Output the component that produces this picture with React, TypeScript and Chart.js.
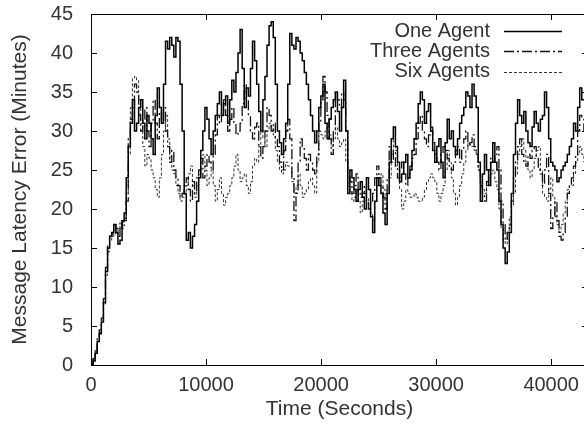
import React, { useEffect, useRef } from 'react';
import { Chart, registerables } from 'chart.js';

Chart.register(...registerables);

const TIMES = [
  0, 180, 360, 540, 720, 900, 1080, 1260, 1440, 1620, 1800, 1980, 2160, 2340, 2520, 2700, 2880, 3060, 3240, 3420,
  3600, 3780, 3960, 4140, 4320, 4500, 4680, 4860, 5040, 5220, 5400, 5580, 5760, 5940, 6120, 6300, 6480, 6660, 6840, 7020,
  7200, 7380, 7560, 7740, 7920, 8100, 8280, 8460, 8640, 8820, 9000, 9180, 9360, 9540, 9720, 9900, 10080, 10260, 10440, 10620,
  10800, 10980, 11160, 11340, 11520, 11700, 11880, 12060, 12240, 12420, 12600, 12780, 12960, 13140, 13320, 13500, 13680, 13860, 14040, 14220,
  14400, 14580, 14760, 14940, 15120, 15300, 15480, 15660, 15840, 16020, 16200, 16380, 16560, 16740, 16920, 17100, 17280, 17460, 17640, 17820,
  18000, 18180, 18360, 18540, 18720, 18900, 19080, 19260, 19440, 19620, 19800, 19980, 20160, 20340, 20520, 20700, 20880, 21060, 21240, 21420,
  21600, 21780, 21960, 22140, 22320, 22500, 22680, 22860, 23040, 23220, 23400, 23580, 23760, 23940, 24120, 24300, 24480, 24660, 24840, 25020,
  25200, 25380, 25560, 25740, 25920, 26100, 26280, 26460, 26640, 26820, 27000, 27180, 27360, 27540, 27720, 27900, 28080, 28260, 28440, 28620,
  28800, 28980, 29160, 29340, 29520, 29700, 29880, 30060, 30240, 30420, 30600, 30780, 30960, 31140, 31320, 31500, 31680, 31860, 32040, 32220,
  32400, 32580, 32760, 32940, 33120, 33300, 33480, 33660, 33840, 34020, 34200, 34380, 34560, 34740, 34920, 35100, 35280, 35460, 35640, 35820,
  36000, 36180, 36360, 36540, 36720, 36900, 37080, 37260, 37440, 37620, 37800, 37980, 38160, 38340, 38520, 38700, 38880, 39060, 39240, 39420,
  39600, 39780, 39960, 40140, 40320, 40500, 40680, 40860, 41040, 41220, 41400, 41580, 41760, 41940, 42120, 42300, 42480, 42660, 42840, 43020,
  43200,
];

const ONE_AGENT = [
  0, 0.5, 1.5, 3, 4, 5.5, 8, 12, 15, 16.5, 17, 18, 17, 15.5, 16, 18.5, 19.5, 24, 28, 31,
  34, 30, 31, 33, 34, 31, 29, 32, 31, 29, 27, 32, 35.5, 33, 31, 36, 41.5, 40.5, 42, 41,
  39.5, 42, 41.5, 36, 30, 22, 16, 17, 15, 16.5, 18, 21, 24, 27.5, 30, 33, 31.5, 29, 27, 30,
  32, 33.5, 35, 32, 33.5, 34.5, 31, 34, 36.5, 35, 37.5, 40, 43, 38, 33, 35.5, 34.5, 38, 41.5, 39,
  36, 32.5, 30, 34, 37, 41, 43.5, 44, 42, 36, 30, 28.5, 27, 29, 31, 36, 42.5, 41, 40.5, 42,
  41.5, 40, 39, 37.5, 36, 34, 32, 30, 28.5, 30, 33, 34.5, 36, 31, 29, 31.5, 33, 34, 35, 32.5,
  30, 33, 36.5, 30, 22, 25, 24, 22.5, 21, 22.5, 23.5, 21.5, 20, 24, 22.5, 19, 17, 21, 24, 23,
  22, 19.5, 18, 22, 26, 29, 30.5, 28, 26, 23.5, 24.5, 26, 27, 24, 25, 27.5, 29, 31, 33.5, 35,
  34, 31, 32.5, 33.5, 30, 27.5, 26, 28, 29, 26, 24, 28.5, 31.5, 29, 30, 28, 27, 29, 31, 32,
  33, 35, 34.5, 33, 36, 34.5, 33, 26, 21, 24.5, 27, 25, 23, 26, 28.5, 26, 25, 21, 18, 15,
  13, 14.5, 17, 22, 27, 31, 34, 32, 31, 32.5, 30, 28.5, 28, 30.5, 32.5, 31, 30, 31.5, 32, 35,
  33, 29, 26, 25.5, 25, 23.5, 24, 25, 25.5, 26, 27, 28, 29, 31, 30, 33, 35.5, 34, 34, 36,
  35,
];

const THREE_AGENTS = [
  0, 0.8, 1.8, 3.5, 4.5, 6, 8.5, 12.5, 15.5, 16.5, 16.8, 18, 17.5, 16.5, 18.5, 17.5, 18.5, 21, 29, 31.5,
  33, 36, 35, 32, 30, 31.5, 33, 30, 28, 31, 34, 31, 29, 32.5, 31, 33, 30, 28, 26, 27.5,
  25, 24, 23, 21.5, 22, 23, 24, 22.5, 21, 23.5, 22, 24, 25, 26.5, 24, 25.5, 27, 26, 25, 27,
  29.5, 32, 31, 32.5, 34, 32, 30, 31.5, 33, 31, 29.5, 30, 31, 33.5, 36, 34, 32, 30, 29, 30.5,
  31, 28, 26.5, 28, 30, 33, 32, 30, 31, 29, 28, 26, 25, 27.5, 30, 31.5, 29, 24, 18.5, 22,
  26, 29, 28, 26.5, 25, 27, 26, 25, 24.5, 27, 31, 34, 37, 35, 32, 29, 27, 30, 35, 34,
  33, 35, 34, 30, 25, 23.5, 22, 23, 24.5, 22, 21.5, 22, 23, 21, 20, 21, 22, 24, 25.5, 24,
  23, 21.5, 20, 24, 28, 26, 27.5, 25.5, 24, 25, 26, 24.5, 23, 24, 25.5, 26.5, 27, 29, 31, 32,
  30, 29, 28, 29.5, 30.5, 28.5, 27, 26, 25, 27, 28, 27.5, 26.5, 25.5, 25, 26, 27.5, 28, 26, 27.5,
  29, 30, 28, 28.5, 29.5, 28, 27, 25, 23, 22, 21, 23.5, 25, 26.5, 26, 27, 28, 25, 21, 18,
  16, 17, 18, 21, 24, 26, 28, 29, 27, 26, 25.5, 27, 26.5, 27.5, 28, 26.5, 25, 24.5, 23, 25,
  27, 22, 17.5, 19, 21, 18.5, 16.5, 16, 17, 19, 22, 23, 24, 25.5, 27, 30, 32, 31.5, 30, 30.5,
  31,
];

const SIX_AGENTS = [
  0, 0.9, 1.8, 3, 4.2, 5.5, 7.8, 11.5, 14.5, 16, 16.5, 16.8, 17, 17.3, 17.8, 18.3, 18.8, 22, 27, 33,
  36.8, 37, 36.5, 34, 31, 28, 25.5, 27, 26.5, 25, 24, 22.5, 21.5, 24, 27, 30, 32, 29, 26, 25,
  24.5, 23, 22, 21, 21.5, 22, 23, 24.5, 25.5, 23, 21.5, 23, 24.5, 26, 27, 25, 23, 24, 25, 23,
  21, 22.5, 24, 22, 20.5, 21.5, 22, 23, 24, 25.5, 27, 25, 23.5, 24, 24.5, 23, 22, 23.5, 25.5, 26.5,
  26, 28, 30, 29, 28, 30, 31, 30.5, 29.5, 27.5, 26, 25, 24.5, 25, 26, 25.5, 25.5, 23.5, 22, 23,
  24.5, 23, 21.5, 22, 22.5, 23.5, 24, 23, 22, 26, 30, 29.5, 29, 30, 31, 29.5, 28, 29, 30.5, 29,
  28, 28.5, 29, 26, 23, 22, 21, 21.5, 22.5, 21, 19.5, 21, 22, 21.5, 21, 19.5, 18.5, 21, 23, 24,
  24.5, 22.5, 21, 22.5, 24, 27, 29.5, 27.5, 25.5, 22.5, 20, 21, 22.5, 22, 21.5, 21.5, 22, 21.5, 21, 21,
  21.5, 22.5, 23.5, 24, 24.5, 24, 23.5, 22, 21, 22, 23, 25, 27.5, 26, 24, 22, 20.5, 21.5, 23, 24.5,
  26, 27.5, 28.5, 28, 28, 27.5, 27, 25, 23.5, 22.5, 22, 23, 24, 24.5, 25, 23.5, 22.5, 20, 17.5, 16,
  15.5, 17, 19, 20.5, 22, 24.5, 27, 28, 29, 27.5, 26, 25, 24, 25, 26.5, 27.5, 28, 25, 22, 21.5,
  21, 22.5, 24, 21.5, 19, 18, 17, 18, 19.5, 21, 22.5, 23, 23, 24.5, 26, 27, 28, 27, 26, 26.5,
  27,
];

const SERIES_LABELS = ['One Agent', 'Three Agents', 'Six Agents'];
const X_TICKS = [0, 10000, 20000, 30000, 40000];
const Y_TICKS = [0, 5, 10, 15, 20, 25, 30, 35, 40, 45];
const X_TITLE = 'Time (Seconds)';
const Y_TITLE = 'Message Latency Error (Minutes)';
const X_MIN = 0;
const X_MAX = 43200;
const Y_MIN = 0;
const Y_MAX = 45;

const FONT_FAMILY = '"Liberation Sans", Arial, Helvetica, sans-serif';
const TEXT_COLOR = '#333';
const TICK_FONT_SIZE = 20;
const TITLE_FONT_SIZE = 21;

const toPoints = (vals: number[]) => vals.map((v, i) => ({ x: TIMES[i], y: v }));

const framePlugin = {
  id: 'gnuFrame',
  afterDatasetsDraw(chart: any) {
    const { ctx, chartArea } = chart;
    const { left, right, top, bottom } = chartArea;
    const xs = chart.scales.x;
    const ys = chart.scales.y;
    ctx.save();
    ctx.strokeStyle = '#000';
    ctx.lineWidth = 1;
    ctx.setLineDash([]);
    ctx.strokeRect(Math.round(left) + 0.5, Math.round(top) + 0.5, Math.round(right - left), Math.round(bottom - top));
    const L = 6;
    ctx.beginPath();
    xs.ticks.forEach((t: any) => {
      const px = Math.round(xs.getPixelForValue(t.value)) + 0.5;
      ctx.moveTo(px, bottom);
      ctx.lineTo(px, bottom - L);
      ctx.moveTo(px, top);
      ctx.lineTo(px, top + L);
    });
    ys.ticks.forEach((t: any) => {
      const py = Math.round(ys.getPixelForValue(t.value)) + 0.5;
      ctx.moveTo(left, py);
      ctx.lineTo(left + L, py);
      ctx.moveTo(right, py);
      ctx.lineTo(right - L, py);
    });
    ctx.stroke();

    // legend (top-right, text left of sample line)
    const textRight = 490;
    const lineStart = 504;
    const lineEnd = 562;
    const firstRow = 31;
    const rowGap = 20.3;
    chart.data.datasets.forEach((ds: any, i: number) => {
      const y = firstRow + rowGap * i;
      ctx.beginPath();
      ctx.strokeStyle = ds.borderColor;
      ctx.lineWidth = ds.borderWidth;
      ctx.setLineDash(ds.borderDash || []);
      ctx.moveTo(lineStart, Math.round(y) + 0.5);
      ctx.lineTo(lineEnd, Math.round(y) + 0.5);
      ctx.stroke();
      ctx.font = `${TICK_FONT_SIZE}px ${FONT_FAMILY}`;
      ctx.textAlign = 'right';
      ctx.textBaseline = 'middle';
      ctx.fillStyle = TEXT_COLOR;
      ctx.fillText(ds.label, textRight, y);
    });
    ctx.restore();
  },
};

export default function App() {
  const canvasRef = useRef<HTMLCanvasElement | null>(null);

  useEffect(() => {
    const canvas = canvasRef.current;
    if (!canvas) return;
    const tickFont = { family: FONT_FAMILY, size: TICK_FONT_SIZE };
    const titleFont = { family: FONT_FAMILY, size: TITLE_FONT_SIZE };
    const chart = new Chart(canvas, {
      type: 'line',
      data: {
        datasets: [
          {
            label: SERIES_LABELS[0],
            data: toPoints(ONE_AGENT),
            borderColor: '#000',
            borderWidth: 1.5,
            borderDash: [],
            stepped: true,
          },
          {
            label: SERIES_LABELS[1],
            data: toPoints(THREE_AGENTS),
            borderColor: '#111',
            borderWidth: 1.3,
            borderDash: [10, 3, 2, 3],
            stepped: true,
          },
          {
            label: SERIES_LABELS[2],
            data: toPoints(SIX_AGENTS),
            borderColor: '#333',
            borderWidth: 1,
            borderDash: [3, 2],
            stepped: true,
          },
        ] as any,
      },
      options: {
        animation: false,
        responsive: false,
        maintainAspectRatio: false,
        layout: { padding: { top: 14, right: 12, left: 0, bottom: 0 } },
        elements: { point: { radius: 0 }, line: { tension: 0, fill: false } },
        plugins: { legend: { display: false }, tooltip: { enabled: false } },
        scales: {
          x: {
            type: 'linear',
            min: X_MIN,
            max: X_MAX,
            afterFit: (s: any) => {
              s.height = 62;
              s.paddingLeft = 0;
              s.paddingRight = 0;
            },
            afterBuildTicks: (s: any) => { s.ticks = X_TICKS.map((v) => ({ value: v })); },
            grid: { display: false, drawTicks: false },
            border: { display: false },
            ticks: {
              padding: 8,
              maxRotation: 0,
              autoSkip: false,
              font: tickFont,
              color: TEXT_COLOR,
              callback: (v: any) => String(v),
            },
            title: {
              display: true,
              text: X_TITLE,
              font: titleFont,
              color: TEXT_COLOR,
              padding: { top: 0, bottom: 5 },
            },
          },
          y: {
            type: 'linear',
            min: Y_MIN,
            max: Y_MAX,
            afterFit: (s: any) => {
              s.width = 91;
              s.paddingTop = 0;
              s.paddingBottom = 0;
            },
            afterBuildTicks: (s: any) => { s.ticks = Y_TICKS.map((v) => ({ value: v })); },
            grid: { display: false, drawTicks: false },
            border: { display: false },
            ticks: {
              padding: 18,
              autoSkip: false,
              font: tickFont,
              color: TEXT_COLOR,
              callback: (v: any) => String(v),
            },
            title: {
              display: true,
              text: Y_TITLE,
              font: titleFont,
              color: TEXT_COLOR,
              padding: { top: 8, bottom: 0 },
            },
          },
        },
      } as any,
      plugins: [framePlugin],
    });
    return () => chart.destroy();
  }, []);

  return (
    <div
      style={{
        position: 'absolute',
        left: 0,
        top: 0,
        width: 584,
        height: 427,
        overflow: 'hidden',
        background: '#fff',
      }}
    >
      <canvas ref={canvasRef} width={600} height={427} style={{ width: 600, height: 427, display: 'block' }} />
    </div>
  );
}
